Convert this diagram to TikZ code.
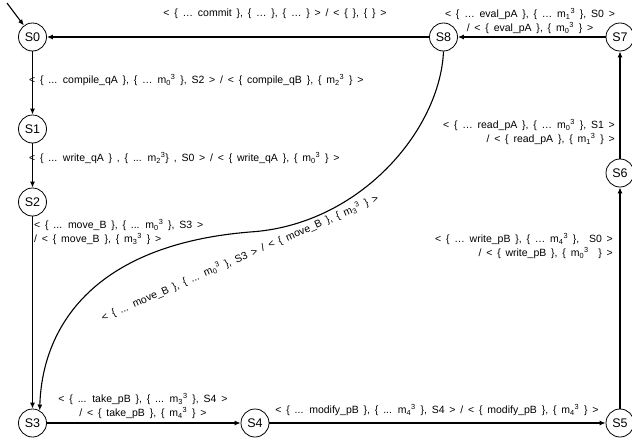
\documentclass[tikz,border=0pt]{standalone}
\usepackage{fontspec}
\setmainfont{Liberation Sans}
\newfontfamily\lblfont[WordSpace=1.65]{Liberation Sans}
\usetikzlibrary{arrows.meta}
\newcommand{\mm}[2]{m\textsubscript{#1}\textsuperscript{#2}}
\tikzset{
  state/.style={circle,draw,line width=0.8pt,minimum size=28pt,inner sep=0pt,font=\fontsize{12.5}{14}\selectfont},
  tr/.style={line width=1.1pt,-{Latex[length=6pt,width=5pt]}},
  lbl/.style={font=\lblfont\fontsize{10.5}{14}\selectfont,inner sep=0pt}
}
\begin{document}
\begin{tikzpicture}[x=1pt,y=-1pt]
\useasboundingbox (0,0) rectangle (632,442);
\node[state] (S0) at (32.5,37) {S0};
\node[state] (S1) at (32.5,129) {S1};
\node[state] (S2) at (32.5,202) {S2};
\node[state] (S3) at (32.5,423) {S3};
\node[state] (S4) at (255,423) {S4};
\node[state] (S5) at (620,423) {S5};
\node[state] (S6) at (620,173) {S6};
\node[state] (S7) at (620,37) {S7};
\node[state] (S8) at (443.5,37) {S8};
\coordinate (init) at (7,3);

\draw[tr] (init) -- (S0);
\draw[tr] (S8) -- (S0);
\draw[tr] (S7) -- (S8);
\draw[tr] (S6) -- (S7);
\draw[tr] (S5) -- (S6);
\draw[tr] (S4) -- (S5);
\draw[tr] (S3) -- (S4);
\draw[tr] (S0) -- (S1);
\draw[tr] (S1) -- (S2);
\draw[tr] (S2) -- (S3);
\draw[tr] (S8.south) .. controls (440,130) and (360,225) .. (250,232) .. controls (90,245) and (42,330) .. (S3.60);

\node[lbl] (L80) at (275,14) {< \{ … commit \}, \{ … \}, \{ … \} > / < \{ \}, \{ \} >};
\node[lbl,align=center] (L78) at (530,21) {< \{ … eval\_pA \}, \{ … \mm{1}{3} \}, S0 >\\/ < \{ eval\_pA \}, \{ \mm{0}{3} \} >};
\node[lbl,anchor=west] (L01) at (29,80) {< \{ ... compile\_qA \}, \{ … \mm{0}{3} \}, S2 > / < \{ compile\_qB \}, \{ \mm{2}{3} \} >};
\node[lbl,anchor=west] (L12) at (29,158) {< \{ ... write\_qA \} , \{ ... \mm{2}{3}\} , S0 > / < \{ write\_qA \}, \{ \mm{0}{3} \} >};
\node[lbl,anchor=west,align=left] (L23) at (34,232) {< \{ ... move\_B \}, \{ ... \mm{0}{3} \}, S3 >\\/ < \{ move\_B \}, \{ \mm{3}{3} \} >};
\node[lbl,align=center] (L34) at (143,406) {< \{ ... take\_pB \}, \{ ... \mm{3}{3} \}, S4 >\\/ < \{ take\_pB \}, \{ \mm{4}{3} \} >};
\node[lbl] (L45) at (437,410) {< \{ ... modify\_pB \}, \{ ... \mm{4}{3} \}, S4 > / < \{ modify\_pB \}, \{ \mm{4}{3} \} >};
\node[lbl,anchor=east,align=right] (L56) at (613,246) {< \{ … write\_pB \}, \{ … \mm{4}{3} \},~ S0 >\\/ < \{ write\_pB \}, \{ \mm{0}{3}~ \} >};
\node[lbl,anchor=east,align=right] (L67) at (615,132) {< \{ … read\_pA \}, \{ … \mm{0}{3} \}, S1 >\\/ < \{ read\_pA \}, \{ \mm{1}{3} \} >};
\node[lbl,rotate=23.5] (L83) at (240,258) {< \{ ... move\_B \}, \{ ... \mm{0}{3} \}, S3 > / < \{ move\_B \}, \{ \mm{3}{3} \} >};
\end{tikzpicture}
\end{document}
